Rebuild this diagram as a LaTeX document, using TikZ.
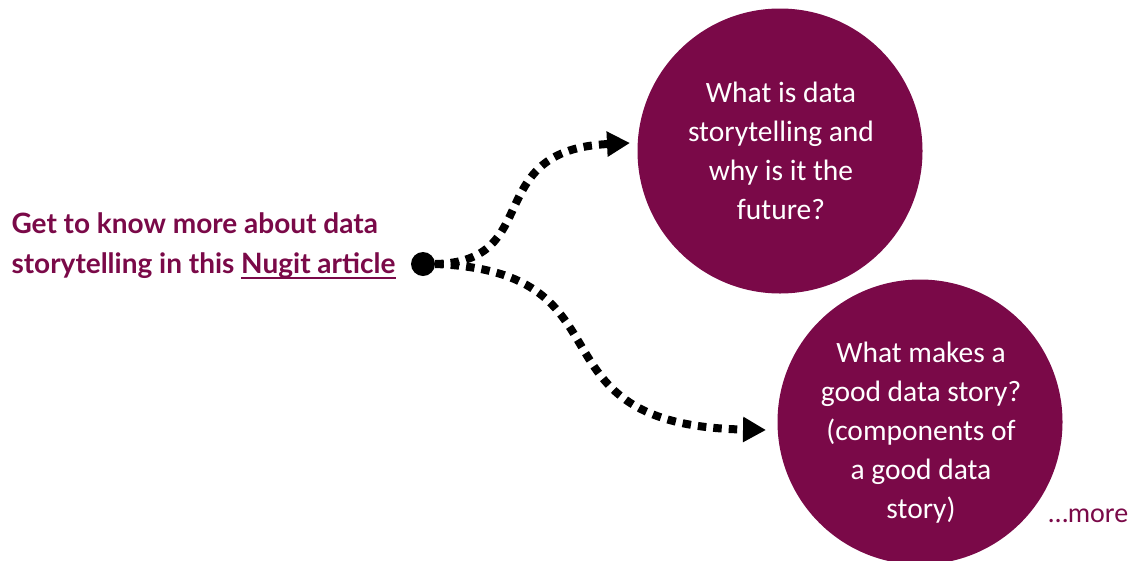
\documentclass[tikz,border=0pt]{standalone}
\usepackage{fontspec}
\setmainfont{Carlito}
\newfontfamily\latofont{Lato}
\usetikzlibrary{arrows.meta}
\definecolor{plum}{RGB}{122,9,72}
% link-style underline with a heavier rule
\newcommand\linkul[1]{\setbox0\hbox{#1}\rlap{\rule[-5pt]{\wd0}{2pt}}\box0}
\tikzset{
  bubble/.style={circle, fill=plum, minimum size=285pt, inner sep=0pt},
  bubbletext/.style={text=white, align=center, font=\fontsize{29.5}{39}\selectfont},
  lead/.style={text=plum, align=left, font=\latofont\bfseries\fontsize{28}{40}\selectfont, anchor=west},
  hub/.style={circle, fill=black, minimum size=24pt, inner sep=0pt},
  trail/.style={line width=8pt, dash pattern=on 8.5pt off 7pt, -{Triangle[length=23pt,width=24pt]}},
}
\begin{document}
\begin{tikzpicture}[x=1pt,y=-1pt]
  \useasboundingbox (0,0) rectangle (1134,560);
  \begin{scope}
    \clip (0,0) rectangle (1134,560);
    \node[bubble] (q1) at (780,151) {};
    \node[bubble] (q2) at (920,422) {};
  \end{scope}
  \node[bubbletext] (t1) at (781,151) {What is data\\storytelling and\\why is it the\\future?};
  \node[bubbletext] (t2) at (921,433) {What makes a\\good data story?\\(components of\\a good data\\story)};
  \node[lead] (intro) at (8,246) {Get to know more about data\\storytelling in this \linkul{Nugit article}};
  \node[hub] (dot) at (423,264) {};
  \node[text=plum, font=\fontsize{28}{30}\selectfont, anchor=base west] (more) at (1045,522) {\ldots more};
  \coordinate (e1) at (630,143);
  \coordinate (e2) at (766,430);
  \draw[trail] (dot.east) .. controls (545,262) and (480,150) .. (e1);
  \draw[trail] (dot.east) .. controls (640,272) and (520,425) .. (e2);
\end{tikzpicture}
\end{document}
